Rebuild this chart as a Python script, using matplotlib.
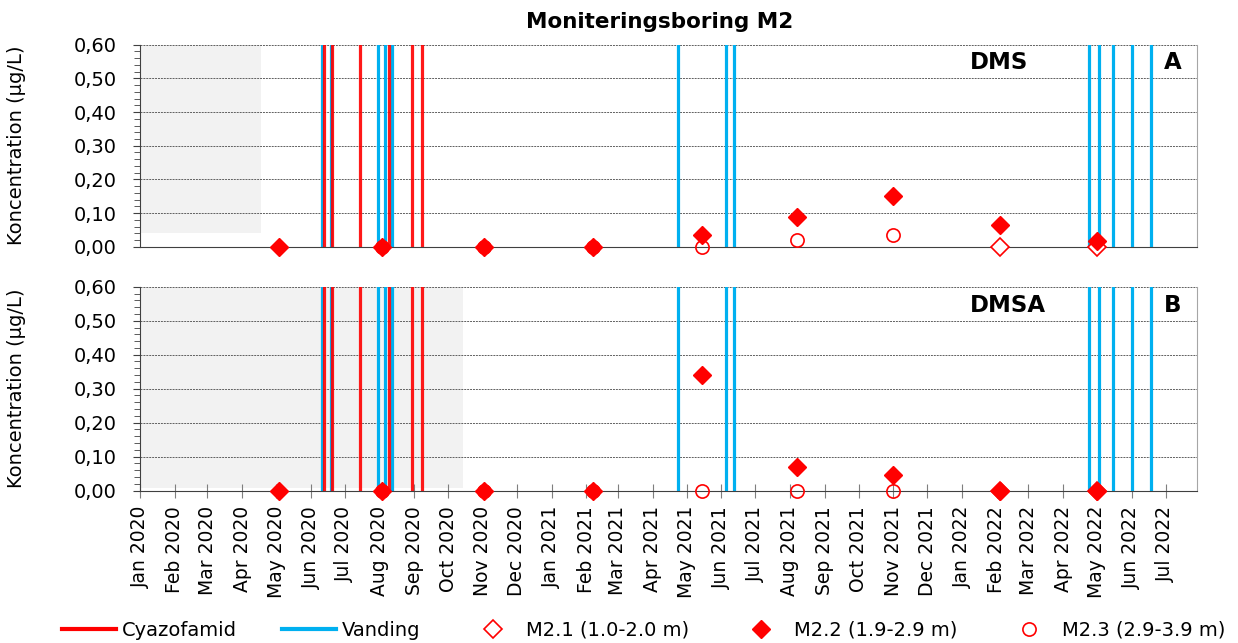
import numpy as np
import pandas as pd
import matplotlib
matplotlib.use('Agg')
import matplotlib.pyplot as plt
import matplotlib.dates as mdates
from matplotlib.lines import Line2D
from matplotlib.ticker import MultipleLocator, FuncFormatter

# Treatment dates (vertical lines)
cyazofamid_dates = ['2020-06-13', '2020-06-20', '2020-07-15', '2020-08-09', '2020-08-30', '2020-09-08']
vanding_dates = ['2020-06-11', '2020-06-19', '2020-07-31', '2020-08-06', '2020-08-12',
                 '2021-04-23', '2021-06-05', '2021-06-12',
                 '2022-04-24', '2022-05-03', '2022-05-15', '2022-06-01', '2022-06-18']

# Sampling rounds
sample_dates = ['2020-05-04', '2020-08-03', '2020-11-02', '2021-02-07', '2021-05-15',
                '2021-08-07', '2021-11-01', '2022-02-04', '2022-05-01']

# DMS (panel A)
dms_m21 = [np.nan, np.nan, np.nan, np.nan, np.nan, np.nan, np.nan, 0.0, 0.0]
dms_m22 = [0.0, 0.0, 0.0, 0.0, 0.036, 0.087, 0.151, 0.064, 0.018]
dms_m23 = [np.nan, 0.0, 0.0, 0.0, 0.0, 0.019, 0.035, np.nan, np.nan]

# DMSA (panel B)
dmsa_m21 = [np.nan, np.nan, np.nan, np.nan, np.nan, np.nan, np.nan, 0.0, 0.0]
dmsa_m22 = [0.0, 0.0, 0.0, 0.0, 0.339, 0.069, 0.046, 0.0, 0.0]
dmsa_m23 = [np.nan, 0.0, 0.0, 0.0, 0.0, 0.0, 0.0, np.nan, np.nan]

# grey (no data) periods
shade_end_a = '2020-04-18'
shade_end_b = '2020-10-14'

RED = '#FF0000'
BLUE = '#00B0F0'

plt.rcParams['font.family'] = ['DejaVu Sans']

fig = plt.figure(figsize=(12.38, 6.43), dpi=100)
ax_a = fig.add_axes([0.1131, 0.6163, 0.8538, 0.3142])
ax_b = fig.add_axes([0.1131, 0.2369, 0.8538, 0.3172])

x_min = pd.Timestamp('2020-01-01')
x_max = pd.Timestamp('2022-07-29')
sd = pd.to_datetime(sample_dates)


def setup_panel(ax, shade_end, shade_ymin, m21, m22, m23, name, letter, show_x):
    ax.axvspan(x_min, pd.Timestamp(shade_end), ymin=shade_ymin, ymax=1, color='#F2F2F2', lw=0, zorder=0)
    for d in vanding_dates:
        ax.axvline(pd.Timestamp(d), color=BLUE, lw=2.3, zorder=2)
    for d in cyazofamid_dates:
        ax.axvline(pd.Timestamp(d), color=RED, lw=2.3, zorder=2, alpha=0.9)

    ax.plot(sd, m21, ls='none', marker='D', ms=9, mfc='white', mec=RED, mew=1.2, zorder=4, clip_on=False)
    ax.plot(sd, m22, ls='none', marker='D', ms=9, mfc=RED, mec=RED, zorder=5, clip_on=False)
    ax.plot(sd, m23, ls='none', marker='o', ms=9.5, mfc='none', mec=RED, mew=1.2, zorder=6, clip_on=False)

    ax.set_xlim(x_min, x_max)
    ax.set_ylim(0, 0.6)
    ax.yaxis.set_major_locator(MultipleLocator(0.1))
    ax.yaxis.set_minor_locator(MultipleLocator(0.02))
    ax.yaxis.set_major_formatter(FuncFormatter(lambda v, p: f'{v:.2f}'.replace('.', ',')))
    ax.tick_params(axis='y', which='major', length=5, width=0.8, pad=12, labelsize=14, color='#404040')
    ax.tick_params(axis='y', which='minor', length=4, width=0.6, color='#404040')
    ax.grid(axis='y', which='major', color='#606060', ls=(0, (2, 1)), lw=0.7, zorder=1)
    ax.set_axisbelow(True)

    ax.xaxis.set_major_locator(mdates.MonthLocator())
    ax.xaxis.set_major_formatter(mdates.DateFormatter('%b %Y'))
    if show_x:
        ax.tick_params(axis='x', direction='inout', length=10, width=0.8, color='#7F7F7F',
                       pad=6, labelsize=13.5, labelrotation=90)
    else:
        ax.tick_params(axis='x', length=0, labelbottom=False)

    ax.spines['top'].set_visible(False)
    ax.spines['right'].set_color('#A6A6A6')
    ax.spines['left'].set_color('#404040')
    ax.spines['bottom'].set_color('#404040')

    ax.set_ylabel('Koncentration (µg/L)', fontsize=14)
    ax.yaxis.set_label_coords(-0.108, 0.5)
    ax.text(0.785, 0.91, name, transform=ax.transAxes, ha='left', va='center',
            fontsize=16.5, fontweight='bold', zorder=7)
    ax.text(0.977, 0.91, letter, transform=ax.transAxes, ha='center', va='center',
            fontsize=16.5, fontweight='bold', zorder=7)


setup_panel(ax_a, shade_end_a, 0.07, dms_m21, dms_m22, dms_m23, 'DMS', 'A', False)
setup_panel(ax_b, shade_end_b, 0.015, dmsa_m21, dmsa_m22, dmsa_m23, 'DMSA', 'B', True)

fig.text(0.533, 0.966, 'Moniteringsboring M2', ha='center', va='center', fontsize=15.5, fontweight='bold')

handles = [
    Line2D([], [], color=RED, lw=3),
    Line2D([], [], color=BLUE, lw=3),
    Line2D([], [], ls='none', marker='D', ms=9, mfc='white', mec=RED, mew=1.2),
    Line2D([], [], ls='none', marker='D', ms=9, mfc=RED, mec=RED),
    Line2D([], [], ls='none', marker='o', ms=9.5, mfc='none', mec=RED, mew=1.2),
]
labels = ['Cyazofamid', 'Vanding', 'M2.1 (1.0-2.0 m)', 'M2.2 (1.9-2.9 m)', 'M2.3 (2.9-3.9 m)']
fig.legend(handles, labels, loc='center', bbox_to_anchor=(0.52, 0.02), ncol=5, frameon=False,
           fontsize=14, handlelength=2.8, handletextpad=0.3, columnspacing=2.3)

fig.savefig('out.png', dpi=100)
